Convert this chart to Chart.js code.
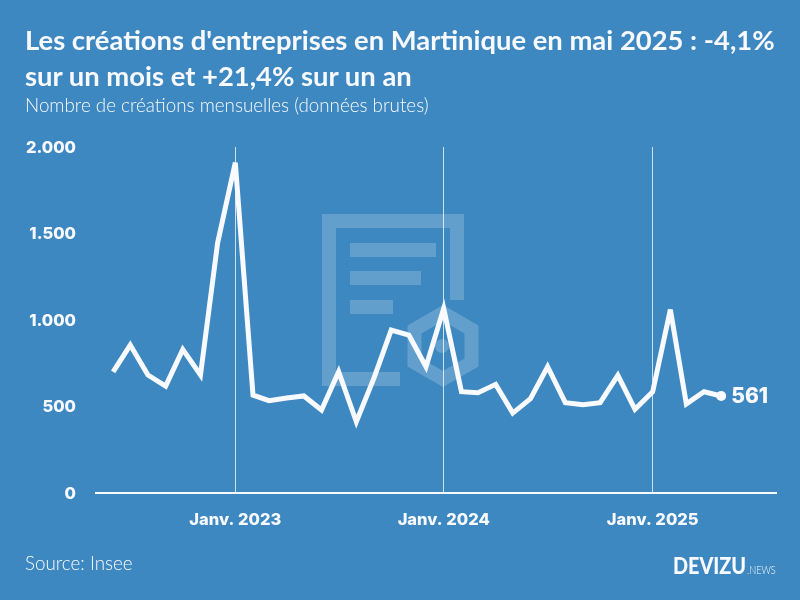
<!DOCTYPE html>
<html><head><meta charset="utf-8">
<script src="https://cdn.jsdelivr.net/npm/chart.js@4/dist/chart.umd.min.js"></script>
<style>
html,body{margin:0;padding:0;background:#3d88c0;width:800px;height:600px;overflow:hidden;font-family:Lato,sans-serif;color:#f8faff}
.t{position:absolute;white-space:nowrap}
svg,canvas{position:absolute;left:0;top:0}
</style></head><body>
<svg width="800" height="600" fill="none">
<g stroke="#fff" stroke-opacity=".2" stroke-width="14">
<path d="M400 379H329V221H457V300"/>
<path d="M350 250H436M350 278H421M350 307H393"/>
<path d="M443 313L471.5 329.5V362.5L443 379L414.5 362.5V329.5Z"/>
</g>
<circle cx="442" cy="346" r="7" fill="#fff" fill-opacity=".2"/>
</svg>
<canvas id="c" width="800" height="600"></canvas>
<div class="t" style="left:25px;top:22px;font-size:27.4px;font-weight:700;line-height:36px">Les créations d'entreprises en Martinique en mai 2025 : -4,1%<br>sur un mois et +21,4% sur un an</div>
<div class="t" style="left:25px;top:93px;font-size:18.8px;font-weight:300">Nombre de créations mensuelles (données brutes)</div>
<div class="t" style="left:25px;top:551px;font-size:18.8px;font-weight:300">Source: Insee</div>
<div class="t" style="left:673px;top:552px;font-size:22px;font-weight:900;transform:scaleX(.9);transform-origin:left">DEVIZU</div>
<div class="t" style="left:747px;top:563px;font-size:11px;font-weight:300;transform:scaleX(.84);transform-origin:left">.NEWS</div>
<script>
const months=["2022-06","2022-07","2022-08","2022-09","2022-10","2022-11","2022-12",
"2023-01","2023-02","2023-03","2023-04","2023-05","2023-06","2023-07","2023-08","2023-09","2023-10","2023-11","2023-12",
"2024-01","2024-02","2024-03","2024-04","2024-05","2024-06","2024-07","2024-08","2024-09","2024-10","2024-11","2024-12",
"2025-01","2025-02","2025-03","2025-04","2025-05"];
const creations=[700,855,682,618,830,682,1445,1910,566,534,549,561,480,701,412,665,942,913,730,
1066,586,580,628,462,545,730,522,510,522,680,484,
585,1060,515,585,561];
const xTickMonths=["2023-01","2024-01","2025-01"];
const xTickLabels=["Janv. 2023","Janv. 2024","Janv. 2025"];
const yTicks=[0,500,1000,1500,2000];
const yTickLabels=["0","500","1.000","1.500","2.000"];
const lastLabel="561";
const ms=m=>Date.parse(m+"-01T00:00:00Z");
const DAY=864e5;
const ink="#f8faff";
const endLabel={id:"endLabel",
 beforeDatasetsDraw(ch){ch.ctx.miterLimit=4.5;},
 afterDatasetsDraw(ch){
  const p=ch.getDatasetMeta(0).data.at(-1),g=ch.ctx;
  g.save();g.fillStyle=ink;g.font="800 21px Inter";g.textBaseline="middle";g.textAlign="left";
  g.fillText(lastLabel,p.x+10,p.y+1);g.restore();
}};
new Chart(document.getElementById("c"),{
  type:"line",
  data:{datasets:[{
    data:months.map((m,i)=>({x:ms(m),y:creations[i]})),
    borderColor:ink,borderWidth:5,tension:0,borderJoinStyle:"miter",
    pointRadius:c=>c.dataIndex===months.length-1?5:0,
    pointBackgroundColor:ink,pointBorderWidth:0,clip:false
  }]},
  options:{
    responsive:false,animation:false,devicePixelRatio:1,
    layout:{padding:{left:0,top:147,right:24,bottom:67}},
    plugins:{legend:{display:false},tooltip:{enabled:false},title:{display:false}},
    scales:{
      x:{type:"linear",
        min:ms("2022-06")-30*DAY,max:ms("2023-01")+947*DAY,
        afterBuildTicks:a=>{a.ticks=xTickMonths.map(m=>({value:ms(m)}));},
        afterFit:a=>{a.height=40;},
        grid:{color:"rgba(255,255,255,.75)",lineWidth:1,drawTicks:false},
        border:{color:ink,width:2},
        ticks:{color:ink,autoSkip:false,maxRotation:0,padding:17,font:{family:"Inter",weight:"800",size:16.5},
          callback:v=>xTickLabels[xTickMonths.findIndex(m=>ms(m)===v)]}
      },
      y:{min:0,max:2000,
        afterBuildTicks:a=>{a.ticks=yTicks.map(v=>({value:v}));},
        afterFit:a=>{a.width=96;},
        grid:{display:false},border:{display:false},
        ticks:{color:ink,padding:12,labelOffset:1,font:{family:"Inter",weight:"800",size:16.5},
          callback:v=>yTickLabels[yTicks.indexOf(v)]}
      }
    }
  },
  plugins:[endLabel]
});
</script></body></html>
